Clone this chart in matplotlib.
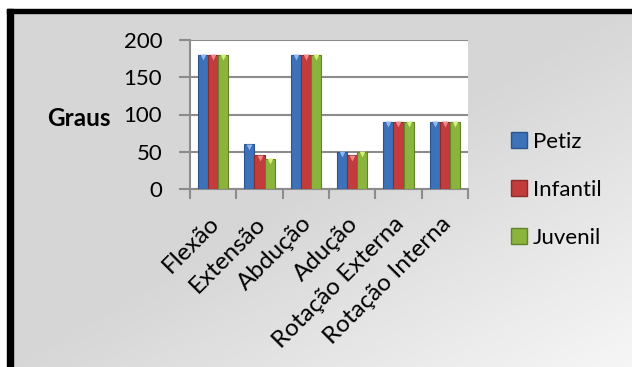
import numpy as np
import matplotlib.pyplot as plt
import matplotlib.transforms as mtransforms
from matplotlib.lines import Line2D

categorias = ['Flexão', 'Extensão', 'Abdução', 'Adução', 'Rotação Externa', 'Rotação Interna']
petiz = [180, 60, 180, 50, 90, 90]
infantil = [180, 45, 180, 45, 90, 90]
juvenil = [180, 40, 180, 50, 90, 90]
series = [('Petiz', petiz), ('Infantil', infantil), ('Juvenil', juvenil)]
cores = ['#3d71b8', '#c23c3c', '#8bb43d']
bordas = ['#2a5590', '#8e2a2a', '#63832a']
topos = ['#8fb8ee', '#f08a8a', '#d4f07a']

plt.rcParams['font.family'] = ['Lato', 'DejaVu Sans']

W, H = 632, 367
fig = plt.figure(figsize=(W / 100, H / 100), dpi=100)

# fundo com degradê
bg = fig.add_axes([0, 0, 1, 1], zorder=-10)
xx, yy = np.meshgrid(np.linspace(0, 1, W), np.linspace(0, 1, H))
u = (xx + yy) / 2
t = np.clip((u - 0.5) / 0.5, 0, 1)
g = (0xd6 + (0xf6 - 0xd6) * t) / 255
bg.imshow(np.dstack([g, g, g]), extent=[0, W, H, 0], aspect='auto')
bg.fill_between([0, W], 0, 9, color='white')
bg.fill_between([0, 7], 0, H, color='white')
bg.fill_between([7, W], 9, 12.5, color='black')
bg.fill_between([7, 13], 9, H, color='black')
bg.set_xlim(0, W)
bg.set_ylim(H, 0)
bg.axis('off')

ax = fig.add_axes([190 / W, 1 - 189 / H, (468 - 190) / W, (189 - 40) / H])
ax.set_facecolor('white')
x = np.arange(len(categorias))
w = 0.22
for i, (nome, vals) in enumerate(series):
    pos = x + (i - 1) * w
    ax.bar(pos, vals, width=w, color=cores[i], edgecolor=bordas[i], linewidth=0.8, zorder=3, label=nome)
    ax.scatter(pos, np.array(vals) - 3, marker='v', s=18, color=topos[i], zorder=4, linewidths=0)

ax.set_xlim(-0.5, len(categorias) - 0.5)
ax.set_ylim(0, 200)
ax.set_yticks([0, 50, 100, 150, 200])
ax.yaxis.grid(True, color='#8c8c8c', linewidth=1.5, zorder=0)
ax.set_axisbelow(True)
for s in ['top', 'right']:
    ax.spines[s].set_visible(False)
for s in ['left', 'bottom']:
    ax.spines[s].set_color('#8c8c8c')
    ax.spines[s].set_linewidth(1.5)
ax.tick_params(axis='y', length=8, width=1.5, color='#8c8c8c', labelsize=16, pad=12)
ax.set_xticks(x)
ax.set_xticklabels(categorias, rotation=45, ha='right', rotation_mode='anchor', fontsize=17.5)
ax.tick_params(axis='x', length=0, pad=12)
desloc = mtransforms.ScaledTranslation(-5 / 100, -7 / 100, fig.dpi_scale_trans)
for lbl in ax.get_xticklabels():
    lbl.set_transform(lbl.get_transform() + desloc)
ax.set_xticks(np.arange(-0.5, len(categorias)), minor=True)
ax.tick_params(axis='x', which='minor', length=7, width=1.5, color='#8c8c8c')
fig.text(79 / W, 1 - 118 / H, 'Graus', fontsize=17.5, fontweight='bold', ha='center', va='center')

handles = [Line2D([], [], marker='s', linestyle='none', markersize=11, markerfacecolor=cores[i],
                  markeredgecolor=bordas[i]) for i in range(3)]
fig.legend(handles, [s[0] for s in series], loc='center left', bbox_to_anchor=(486 / W, 1 - 190 / H),
           frameon=False, fontsize=16, labelspacing=1.25, handletextpad=0.0, handlelength=1.2)

fig.savefig('out.png', dpi=100)
